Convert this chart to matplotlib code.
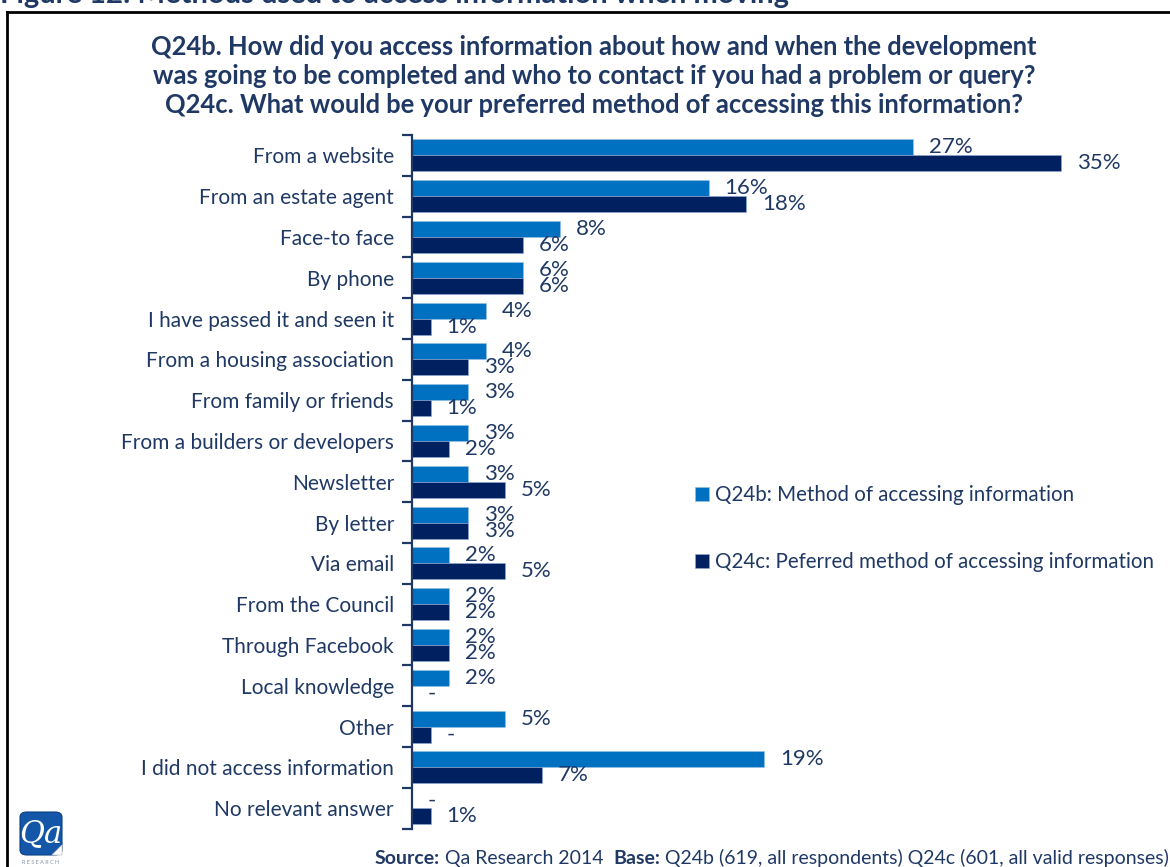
import numpy as np
import matplotlib.pyplot as plt
from matplotlib.patches import FancyBboxPatch, Polygon

plt.rcParams['font.family'] = ['Lato', 'DejaVu Sans']

categories = [
    'From a website', 'From an estate agent', 'Face-to face', 'By phone',
    'I have passed it and seen it', 'From a housing association',
    'From family or friends', 'From a builders or developers', 'Newsletter',
    'By letter', 'Via email', 'From the Council', 'Through Facebook',
    'Local knowledge', 'Other', 'I did not access information',
    'No relevant answer',
]
q24b = [27, 16, 8, 6, 4, 4, 3, 3, 3, 3, 2, 2, 2, 2, 5, 19, 0]
q24c = [35, 18, 6, 6, 1, 3, 1, 2, 5, 3, 5, 2, 2, 0, 1, 7, 1]
# cells the survey table reports as "-"
dash_b = {'No relevant answer'}
dash_c = {'Local knowledge', 'Other'}

series_names = ['Q24b: Method of accessing information',
                'Q24c: Peferred method of accessing information']

LIGHT = '#0070C0'
DARK = '#002060'
TEXT = '#1F3864'

fig = plt.figure(figsize=(11.7, 8.67), dpi=100)
W, H = 1170, 867

# axes placed in pixel terms: zero at x=412, 18.54 px per percent
x0, px_per = 412, 18.54
ax = fig.add_axes([x0 / W, 1 - 828.6 / H, 40 * px_per / W, 693.6 / H])

y = np.arange(len(categories))
h = 0.39
ax.barh(y - h / 2, q24b, height=h, color=LIGHT, edgecolor='#9DC3E6',
        linewidth=0.4, label=series_names[0])
ax.barh(y + h / 2, q24c, height=h, color=DARK, edgecolor='#8FAADC',
        linewidth=0.4, label=series_names[1])

off = 16 / px_per
for i, cat in enumerate(categories):
    lb = '-' if cat in dash_b else f'{q24b[i]}%'
    lc = '-' if cat in dash_c else f'{q24c[i]}%'
    ax.text(q24b[i] + off, y[i] - h / 2, lb, va='center', ha='left',
            fontsize=16, color=TEXT)
    ax.text(q24c[i] + off, y[i] + h / 2, lc, va='center', ha='left',
            fontsize=16, color=TEXT)

ax.set_xlim(0, 40)
ax.set_ylim(len(categories) - 0.5, -0.5)
for s in ['top', 'right', 'bottom']:
    ax.spines[s].set_visible(False)
ax.spines['left'].set_color(TEXT)
ax.spines['left'].set_linewidth(1.6)
ax.set_xticks([])
ax.set_yticks(y)
ax.set_yticklabels(categories, fontsize=15, color=TEXT)
ax.tick_params(axis='y', which='major', length=0, pad=13)
ax.set_yticks(np.arange(-0.5, len(categories), 1), minor=True)
ax.tick_params(axis='y', which='minor', length=7, width=1.6, color=TEXT)

leg = ax.legend(loc='upper left',
                bbox_to_anchor=((687 - x0) / (40 * px_per), 1 - (477 - 135) / 693.6),
                frameon=False, fontsize=14.8, handlelength=0.65, handleheight=0.65,
                handletextpad=0.3, labelspacing=2.3, borderaxespad=0)
for t in leg.get_texts():
    t.set_color(TEXT)

title = ('Q24b. How did you access information about how and when the development\n'
         'was going to be completed and who to contact if you had a problem or query?\n'
         'Q24c. What would be your preferred method of accessing this information?')
fig.text(594 / W, 1 - 35 / H, title, ha='center', va='top', fontsize=18.4,
         fontweight='bold', color=TEXT, linespacing=1.24)

# figure caption running off the top edge
fig.text(0, 1 - 3 / H, 'Figure 12: Methods used to access information when moving',
         ha='left', va='baseline', fontsize=21, fontweight='bold', color=TEXT)

# frame lines
fig.add_artist(plt.Line2D([7 / W, 1], [1 - 12 / H, 1 - 12 / H], color='black', lw=2))
fig.add_artist(plt.Line2D([7 / W, 7 / W], [0, 1 - 12 / H], color='black', lw=2))

# source line with bold keywords, each piece chained to the previous one
pieces = [('Source:', 'bold'), (' Qa Research 2014  ', 'normal'),
          ('Base:', 'bold'),
          (' Q24b (619, all respondents) Q24c (601, all valid responses)', 'normal')]
anchor = fig.text(375 / W, 1 - 867 / H, pieces[0][0], ha='left', va='bottom',
                  fontsize=14, fontweight=pieces[0][1], color=TEXT)
for txt, wt in pieces[1:]:
    anchor = fig.add_artist(plt.Annotation(txt, xy=(1, 0), xycoords=anchor,
                                           ha='left', va='bottom', fontsize=14,
                                           fontweight=wt, color=TEXT))

# company logo, bottom left
logo = FancyBboxPatch((20 / W, 1 - 855 / H), 42 / W, 43 / H,
                      boxstyle='round,pad=0,rounding_size=0.006',
                      transform=fig.transFigure, facecolor='#1457A8',
                      edgecolor='#0B3F85', linewidth=0.8)
fig.add_artist(logo)
fig.add_artist(Polygon([(52 / W, 1 - 855 / H), (62 / W, 1 - 845 / H), (62 / W, 1 - 855 / H)],
                       closed=True, transform=fig.transFigure, facecolor='white',
                       edgecolor='#C8C8C8', linewidth=0.6))
fig.text(41 / W, 1 - 834 / H, 'Qa', ha='center', va='center', fontsize=22,
         family='DejaVu Serif', style='italic', color='white')
fig.text(41 / W, 1 - 863 / H, 'R E S E A R C H', ha='center', va='center',
         fontsize=4, color='#8090A8')

fig.savefig('out.png', dpi=100)
